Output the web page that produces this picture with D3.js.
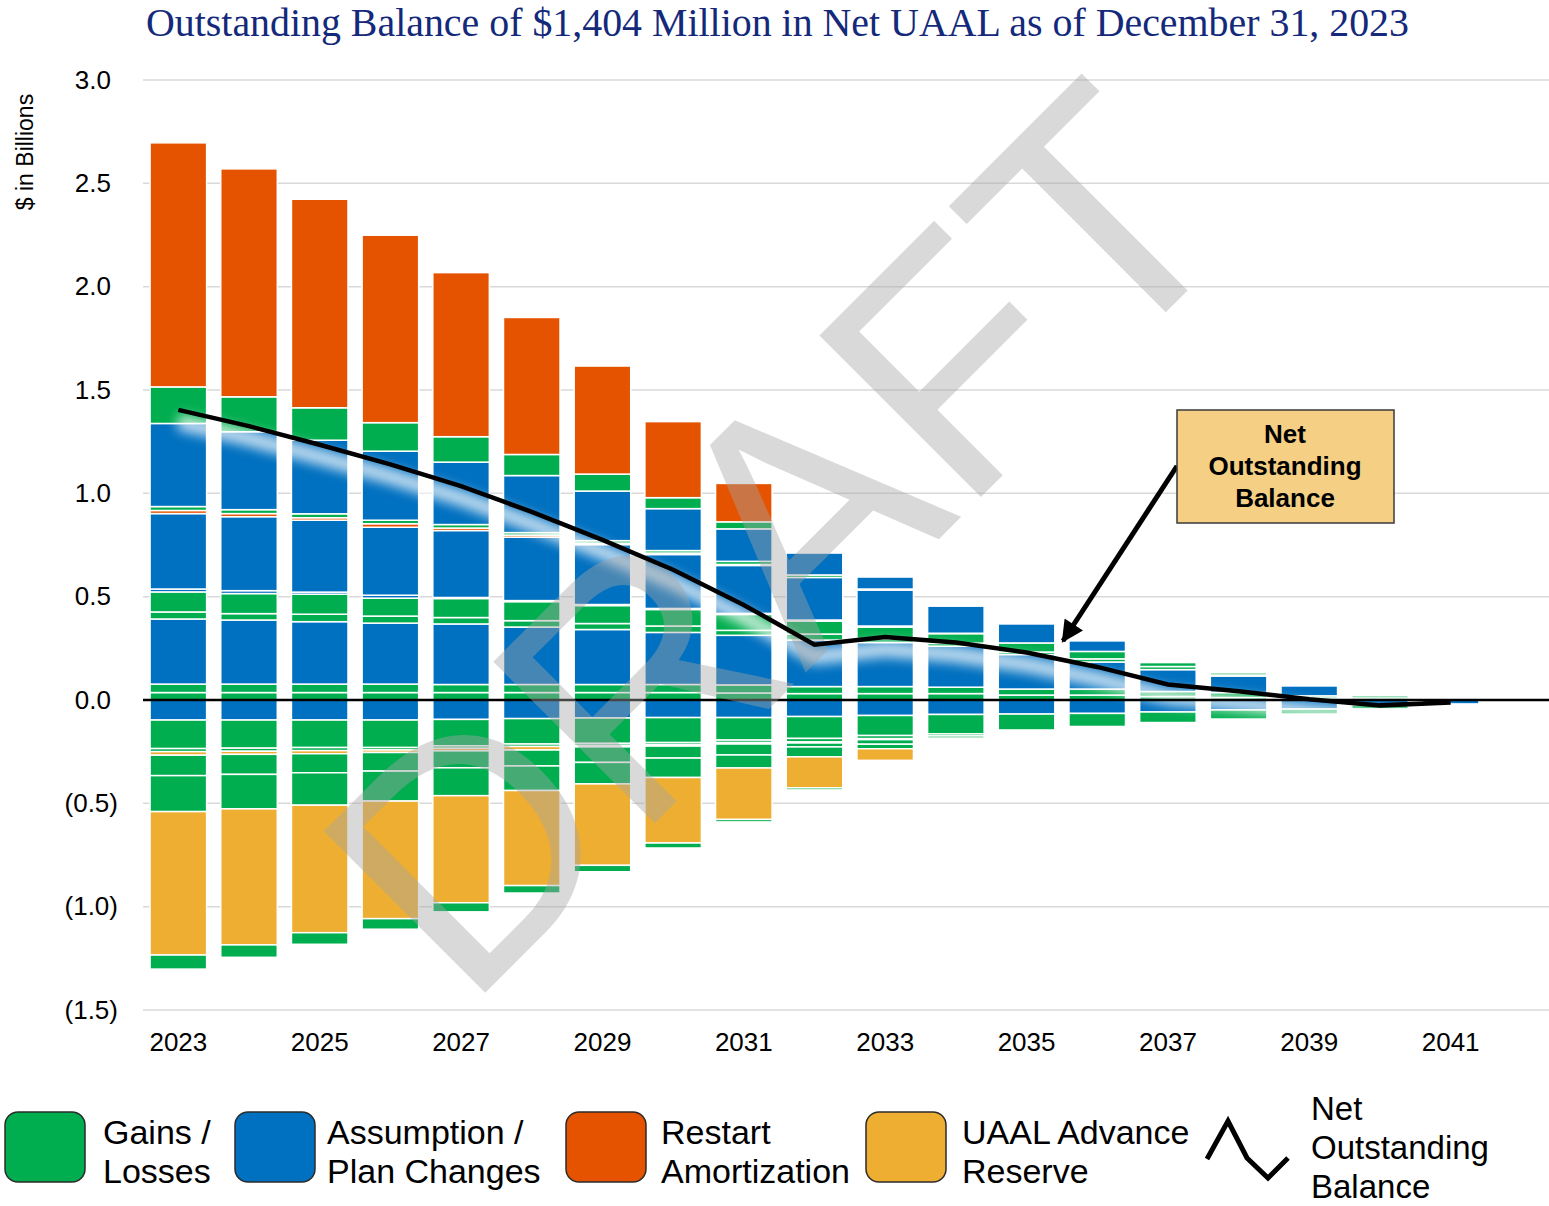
<!DOCTYPE html>
<html>
<head>
<meta charset="utf-8">
<script src="https://cdn.jsdelivr.net/npm/d3@7"></script>
<style>
  body { margin: 0; background: #fff; }
  svg { display: block; font-family: Arial, "Liberation Sans", sans-serif; }
</style>
</head>
<body>
<svg id="chart" width="1549" height="1206"></svg>
<script>
// years on the x axis
const years = [2023, 2024, 2025, 2026, 2027, 2028, 2029, 2030, 2031, 2032,
               2033, 2034, 2035, 2036, 2037, 2038, 2039, 2040, 2041];
const yearLabels = [2023, 2025, 2027, 2029, 2031, 2033, 2035, 2037, 2039, 2041];
const yTicks = [-1.5, -1.0, -0.5, 0, 0.5, 1.0, 1.5, 2.0, 2.5, 3.0];

// amortization bases above zero, listed from the axis upward ($ billions)
const glUp1 = [0.036,0.036,0.036,0.036,0.036,0.036,0.036,0.036,0.034,0.031,0.031,0.031,0.024,0.024,0.017,0.012,0.010,0.010,0];
const glUp2 = [0.041,0.041,0.041,0.041,0.039,0.039,0.039,0.039,0.039,0.034,0.034,0.031,0.029,0.029,0.024,0.024,0.010,0.010,0];
const apUp1 = [0.315,0.310,0.302,0.295,0.293,0.278,0.266,0.252,0.240,0.225,0.213,0.198,0.167,0.131,0.106,0.080,0.048,0,0];
const glUp3 = [0.034,0.031,0.036,0.034,0.031,0.031,0.029,0.031,0.024,0.029,0.019,0.015,0.012,0.015,0.015,0.005,0,0,0];
const glUp4 = [0.097,0.097,0.097,0.087,0.092,0.092,0.087,0.080,0.077,0.063,0.056,0.046,0.044,0.036,0.019,0.010,0,0,0];
const apUp2 = [0.014,0.014,0.010,0.014,0.005,0.005,0.005,0.005,0.005,0.005,0.005,0.002,0,0,0,0,0,0,0];
const apUp3 = [0.365,0.358,0.348,0.329,0.324,0.307,0.290,0.261,0.232,0.206,0.174,0.131,0.092,0.051,0,0,0,0,0];
const raUp1 = [0.015,0.015,0.012,0.017,0.012,0.010,0.007,0.007,0.005,0,0,0,0,0,0,0,0,0,0];
const glUp5 = [0.019,0.019,0.019,0.017,0.017,0.012,0.012,0.012,0.015,0.012,0.005,0,0,0,0,0,0,0,0];
const apUp4 = [0.402,0.377,0.356,0.334,0.302,0.276,0.240,0.203,0.157,0.106,0.058,0,0,0,0,0,0,0,0];
const glUp6 = [0.177,0.169,0.157,0.138,0.123,0.102,0.082,0.053,0.034,0,0,0,0,0,0,0,0,0,0];
const raUp2 = [1.181,1.103,1.009,0.907,0.794,0.663,0.523,0.368,0.186,0,0,0,0,0,0,0,0,0,0];

// bases below zero, listed from the axis downward
const apDn1 = [-0.097,-0.097,-0.097,-0.097,-0.094,-0.090,-0.087,-0.085,-0.085,-0.080,-0.075,-0.070,-0.068,-0.065,-0.058,-0.048,-0.044,-0.024,-0.019];
const glDn1 = [-0.138,-0.136,-0.133,-0.133,-0.128,-0.123,-0.123,-0.121,-0.109,-0.106,-0.097,-0.094,-0.077,-0.063,-0.051,-0.044,-0.024,-0.019,0];
const glDn2 = [-0.015,-0.015,-0.015,-0.012,-0.012,-0.012,-0.010,-0.010,-0.012,-0.017,-0.015,-0.010,0,0,0,0,0,0,0];
const arDn1 = [-0.017,-0.015,-0.015,-0.012,-0.012,-0.017,-0.007,-0.007,-0.007,-0.005,-0.005,0,0,0,0,0,0,0,0];
const glDn3 = [-0.099,-0.097,-0.092,-0.090,-0.082,-0.077,-0.075,-0.058,-0.053,-0.019,-0.022,-0.010,0,0,0,0,0,0,0];
const glDn4 = [-0.174,-0.167,-0.157,-0.145,-0.135,-0.119,-0.104,-0.094,-0.063,-0.048,-0.022,0,0,0,0,0,0,0,0];
const arDn2 = [-0.694,-0.658,-0.617,-0.569,-0.518,-0.460,-0.394,-0.317,-0.249,-0.150,-0.056,0,0,0,0,0,0,0,0];
const glDn5 = [-0.068,-0.060,-0.056,-0.051,-0.044,-0.036,-0.031,-0.024,-0.012,-0.010,0,0,0,0,0,0,0,0,0];

// net outstanding balance line
const netBalance = [1.404,1.325,1.235,1.140,1.035,0.910,0.775,0.630,0.460,0.268,0.305,0.278,0.230,0.160,0.075,0.042,0.004,-0.026,-0.012];

const colors = { gl: "#00ae4f", ap: "#0070c0", ra: "#e55300", ar: "#edae32" };

const layers = [
  { name: "glUp1", kind: "gl", values: glUp1 },
  { name: "glUp2", kind: "gl", values: glUp2 },
  { name: "apUp1", kind: "ap", values: apUp1 },
  { name: "glUp3", kind: "gl", values: glUp3 },
  { name: "glUp4", kind: "gl", values: glUp4 },
  { name: "apUp2", kind: "ap", values: apUp2 },
  { name: "apUp3", kind: "ap", values: apUp3 },
  { name: "raUp1", kind: "ra", values: raUp1 },
  { name: "glUp5", kind: "gl", values: glUp5 },
  { name: "apUp4", kind: "ap", values: apUp4 },
  { name: "glUp6", kind: "gl", values: glUp6 },
  { name: "raUp2", kind: "ra", values: raUp2 },
  { name: "apDn1", kind: "ap", values: apDn1 },
  { name: "glDn1", kind: "gl", values: glDn1 },
  { name: "glDn2", kind: "gl", values: glDn2 },
  { name: "arDn1", kind: "ar", values: arDn1 },
  { name: "glDn3", kind: "gl", values: glDn3 },
  { name: "glDn4", kind: "gl", values: glDn4 },
  { name: "arDn2", kind: "ar", values: arDn2 },
  { name: "glDn5", kind: "gl", values: glDn5 }
];
const kindOf = {};
layers.forEach(l => kindOf[l.name] = l.kind);

const table = years.map((yr, i) => {
  const row = { year: yr };
  layers.forEach(l => row[l.name] = l.values[i]);
  return row;
});

const svg = d3.select("#chart");
const left = 143, right = 1549;

const x = d3.scaleBand().domain(years).range([143, 1486]).paddingInner(0.2).paddingOuter(0.1);
const y = d3.scaleLinear().domain([-1.5, 3.0]).range([1010, 80]);
const bw = x.bandwidth();

// title
svg.append("text")
  .attr("x", 146).attr("y", 36)
  .attr("textLength", 1263).attr("lengthAdjust", "spacingAndGlyphs")
  .style("font-family", "'Liberation Serif', 'DejaVu Serif', serif")
  .style("font-size", "39px")
  .attr("fill", "#14297a")
  .text("Outstanding Balance of $1,404 Million in Net UAAL as of December 31, 2023");

// y label
svg.append("text")
  .attr("transform", "translate(33,152) rotate(-90)")
  .attr("text-anchor", "middle")
  .style("font-size", "23px")
  .text("$ in Billions");

// gridlines
svg.append("g").selectAll("line")
  .data(yTicks.filter(d => d !== 0))
  .join("line")
    .attr("x1", left).attr("x2", right)
    .attr("y1", d => y(d)).attr("y2", d => y(d))
    .attr("stroke", "#d9d9d9").attr("stroke-width", 1.5);

// y axis labels
const yAxis = svg.append("g")
  .attr("transform", "translate(118,0)")
  .call(d3.axisLeft(y).tickValues(yTicks).tickSize(0).tickPadding(0)
    .tickFormat(d => d < 0 ? "(" + (-d).toFixed(1) + ")" : d.toFixed(1)));
yAxis.select(".domain").remove();
yAxis.selectAll("text")
  .style("font-size", "26px").style("font-family", "Arial, 'Liberation Sans', sans-serif")
  .attr("fill", "#000")
  .attr("dx", d => d < 0 ? 0 : -7);

// x axis labels
const xAxis = svg.append("g")
  .attr("transform", "translate(0,1033)")
  .call(d3.axisBottom(x).tickValues(yearLabels).tickSize(0).tickPadding(0));
xAxis.select(".domain").remove();
xAxis.selectAll("text")
  .style("font-size", "26px").style("font-family", "Arial, 'Liberation Sans', sans-serif")
  .attr("fill", "#000");

// stacked bars
const series = d3.stack()
  .keys(layers.map(l => l.name))
  .offset(d3.stackOffsetDiverging)(table);

svg.append("g")
  .selectAll("g")
  .data(series)
  .join("g")
    .attr("fill", d => colors[kindOf[d.key]])
  .selectAll("rect")
  .data(d => d.filter(p => p[1] !== p[0]))
  .join("rect")
    .attr("x", d => x(d.data.year))
    .attr("y", d => y(Math.max(d[0], d[1])))
    .attr("width", bw)
    .attr("height", d => Math.abs(y(d[0]) - y(d[1])))
    .attr("stroke", "#fff")
    .attr("stroke-width", 1.5);

// soft white glow under the net line
const defs = svg.append("defs");
defs.append("filter").attr("id", "glow")
  .attr("x", "-10%").attr("y", "-20%").attr("width", "120%").attr("height", "140%")
  .append("feGaussianBlur").attr("stdDeviation", 6);

const netData = years.map((yr, i) => ({ year: yr, value: netBalance[i] }));
const line = d3.line()
  .x(d => x(d.year) + bw / 2)
  .y(d => y(d.value));

svg.append("path")
  .datum(netData)
  .attr("d", line)
  .attr("transform", "translate(0,12)")
  .attr("fill", "none")
  .attr("stroke", "#fff")
  .attr("stroke-width", 16)
  .attr("opacity", 0.75)
  .attr("filter", "url(#glow)");

// zero line
svg.append("line")
  .attr("x1", left).attr("x2", right)
  .attr("y1", y(0)).attr("y2", y(0))
  .attr("stroke", "#000").attr("stroke-width", 2.5);

// DRAFT watermark
svg.append("text")
  .attr("transform", "translate(466,1012) rotate(-45)")
  .style("font-size", "332px")
  .attr("fill", "#a5a5a5")
  .attr("opacity", 0.42)
  .text("DRAFT");

// net outstanding balance
svg.append("path")
  .datum(netData)
  .attr("d", line)
  .attr("fill", "none")
  .attr("stroke", "#000")
  .attr("stroke-width", 4.5)
  .attr("stroke-linejoin", "miter");

// callout box and arrow
defs.append("marker").attr("id", "arrow")
  .attr("viewBox", "0 0 10 10").attr("refX", 9).attr("refY", 5)
  .attr("markerWidth", 24).attr("markerHeight", 22)
  .attr("markerUnits", "userSpaceOnUse")
  .attr("orient", "auto")
  .append("path").attr("d", "M0,0 L10,5 L0,10 Z").attr("fill", "#000");

svg.append("line")
  .attr("x1", 1177).attr("y1", 466)
  .attr("x2", 1063).attr("y2", 641)
  .attr("stroke", "#000").attr("stroke-width", 5)
  .attr("marker-end", "url(#arrow)");

svg.append("rect")
  .attr("x", 1177).attr("y", 410).attr("width", 217).attr("height", 113)
  .attr("fill", "#f5cf84").attr("stroke", "#3a3a3a").attr("stroke-width", 1.5);

svg.append("text")
  .attr("text-anchor", "middle")
  .style("font-size", "26px").style("font-weight", "bold")
  .selectAll("tspan")
  .data(["Net", "Outstanding", "Balance"])
  .join("tspan")
    .attr("x", 1285)
    .attr("y", (d, i) => 443 + i * 32)
    .text(d => d);

// legend
const legendItems = [
  { kind: "gl", x: 5, lines: ["Gains /", "Losses"], tx: 103 },
  { kind: "ap", x: 235, lines: ["Assumption /", "Plan Changes"], tx: 327 },
  { kind: "ra", x: 566, lines: ["Restart", "Amortization"], tx: 661 },
  { kind: "ar", x: 866, lines: ["UAAL Advance", "Reserve"], tx: 962 }
];
const legend = svg.append("g");
legend.selectAll("rect")
  .data(legendItems)
  .join("rect")
    .attr("x", d => d.x).attr("y", 1112)
    .attr("width", 80).attr("height", 70)
    .attr("rx", 13)
    .attr("fill", d => colors[d.kind])
    .attr("stroke", "#2b2b2b").attr("stroke-width", 1.5);
legend.selectAll("text")
  .data(legendItems)
  .join("text")
    .style("font-size", "34px")
  .selectAll("tspan")
  .data(d => d.lines.map((t, i) => ({ t, i, x: d.tx })))
  .join("tspan")
    .attr("x", d => d.x)
    .attr("y", d => 1144 + d.i * 39)
    .text(d => d.t);

legend.append("path")
  .attr("d", "M1207,1159 L1228,1121 L1247,1158 L1268,1178 L1288,1158")
  .attr("fill", "none").attr("stroke", "#000").attr("stroke-width", 5)
  .attr("stroke-linejoin", "miter");
legend.append("text")
  .style("font-size", "33px")
  .selectAll("tspan")
  .data(["Net", "Outstanding", "Balance"])
  .join("tspan")
    .attr("x", 1311)
    .attr("y", (d, i) => 1120 + i * 39)
    .text(d => d);
</script>
</body>
</html>
